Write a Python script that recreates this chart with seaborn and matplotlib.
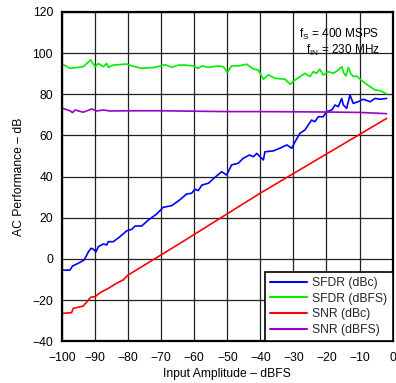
import numpy as np
import pandas as pd
import matplotlib
matplotlib.use("Agg")
import matplotlib.pyplot as plt
import seaborn as sns

# SFDR (dBc) vs input amplitude
sfdr_dbc_x = [-99.8, -97.6, -96.8, -95.1, -93.3, -92.0, -91.2, -90.5, -89.7, -89.0, -87.5, -86.5,
              -86.0, -84.5, -82.5, -80.4, -78.9, -77.9, -75.9, -73.9, -71.4, -69.4, -66.8, -64.3,
              -62.3, -60.8, -59.8, -58.8, -57.7, -55.7, -53.7, -51.7, -50.2, -48.7, -46.7, -45.2,
              -43.3, -42.1, -41.1, -39.1, -38.6, -36.1, -34.1, -32.0, -30.5, -29.5, -28.0, -26.5,
              -24.5, -23.5, -22.5, -21.0, -19.9, -18.4, -17.4, -16.4, -15.4, -14.9, -13.9, -12.9,
              -11.9, -10.4, -8.9, -6.8, -5.3, -3.8, -1.8]
sfdr_dbc_y = [-5.4, -5.4, -3.4, -2.1, -0.5, 3.5, 5.2, 4.7, 3.5, 6.0, 7.3, 6.8,
              8.4, 8.4, 10.8, 13.7, 14.4, 16.0, 16.0, 18.9, 21.8, 25.1, 25.9, 28.8,
              31.6, 31.9, 33.9, 33.2, 35.9, 36.8, 39.7, 42.4, 40.8, 45.7, 46.5, 48.9,
              50.5, 49.7, 51.3, 48.1, 52.1, 52.5, 53.8, 55.4, 53.8, 57.0, 61.1, 62.7,
              67.5, 66.7, 69.1, 69.1, 71.6, 72.4, 74.8, 74.0, 78.0, 74.8, 73.2, 79.7,
              75.6, 76.4, 77.6, 76.4, 78.0, 77.6, 78.0]

# SFDR (dBFS) vs input amplitude
sfdr_dbfs_x = [-99.8, -97.6, -93.6, -91.3, -90.0, -89.0, -87.5, -86.5, -86.0, -84.5, -80.4, -78.9,
               -75.9, -71.9, -68.8, -66.8, -64.8, -62.8, -60.3, -58.8, -57.7, -55.7, -52.7, -51.2,
               -50.0, -48.7, -46.7, -44.1, -42.1, -40.6, -39.1, -37.6, -35.6, -32.5, -31.0, -29.5,
               -28.0, -26.5, -25.0, -24.0, -23.0, -22.0, -21.0, -19.4, -17.9, -16.4, -15.4, -14.7,
               -14.1, -13.4, -12.7, -11.9, -10.9, -8.9, -6.8, -5.3, -3.8, -1.8]
sfdr_dbfs_y = [94.6, 92.6, 93.4, 96.7, 93.4, 95.0, 93.4, 95.0, 93.1, 94.2, 94.7, 93.8,
               92.6, 93.1, 94.4, 93.1, 94.2, 94.2, 93.8, 92.6, 93.8, 93.1, 93.8, 93.4,
               90.7, 93.8, 93.8, 94.6, 92.3, 91.8, 87.3, 89.4, 87.8, 87.3, 84.9, 87.0,
               88.6, 90.2, 88.6, 91.0, 90.2, 92.2, 89.4, 91.0, 90.2, 91.8, 93.4, 90.2,
               88.9, 93.1, 90.2, 88.6, 88.9, 86.1, 83.7, 82.1, 81.8, 80.2]

# SNR (dBc) vs input amplitude
snr_dbc_x = [-99.8, -97.1, -96.6, -93.6, -91.3, -90.0, -88.5, -86.0, -83.5, -81.5, -80.0,
             -64.3, -40.1, -20.0, -1.8]
snr_dbc_y = [-26.4, -26.1, -24.0, -22.9, -18.6, -18.3, -16.4, -14.3, -11.8, -10.2, -7.8,
             7.6, 31.9, 51.0, 68.3]

# SNR (dBFS) vs input amplitude
snr_dbfs_x = [-99.8, -97.6, -96.8, -96.1, -93.6, -91.0, -89.5, -87.5, -85.5, -80.0, -70.0,
              -60.0, -50.0, -40.0, -30.0, -20.0, -10.0, -1.8]
snr_dbfs_y = [73.2, 72.0, 71.1, 72.4, 71.3, 72.9, 71.9, 72.4, 71.9, 72.0, 72.0,
              71.8, 71.6, 71.6, 71.5, 71.4, 71.2, 70.6]

series_names = ["SFDR (dBc)", "SFDR (dBFS)", "SNR (dBc)", "SNR (dBFS)"]
series_colors = ["#0000ff", "#00ee00", "#ff0000", "#9900cc"]

x_ticks = [-100, -90, -80, -70, -60, -50, -40, -30, -20, -10, 0]
y_ticks = [-40, -20, 0, 20, 40, 60, 80, 100, 120]

frames = []
for name, xs, ys in zip(series_names,
                        [sfdr_dbc_x, sfdr_dbfs_x, snr_dbc_x, snr_dbfs_x],
                        [sfdr_dbc_y, sfdr_dbfs_y, snr_dbc_y, snr_dbfs_y]):
    frames.append(pd.DataFrame({"amp": xs, "perf": ys, "series": name}))
df = pd.concat(frames, ignore_index=True)

sns.set_theme(style="white")
plt.rcParams["font.family"] = ["Liberation Sans", "DejaVu Sans"]
plt.rcParams["axes.unicode_minus"] = True

fig = plt.figure(figsize=(3.96, 3.83), dpi=100)
ax = fig.add_axes([0.1566, 0.1089, 0.9914 - 0.1566, 0.9687 - 0.1089])

sns.lineplot(data=df, x="amp", y="perf", hue="series", hue_order=series_names,
             palette=series_colors, linewidth=1.2, sort=False, estimator=None, ax=ax)

ax.set_xlim(-100, 0)
ax.set_ylim(-40, 120)
ax.set_xticks(x_ticks)
ax.set_yticks(y_ticks)
ax.grid(True, color="#222222", linewidth=0.9)
ax.set_axisbelow(True)
for s in ax.spines.values():
    s.set_color("black")
    s.set_linewidth(1.6)
ax.tick_params(axis="both", length=0, labelsize=8.7, colors="black")
ax.tick_params(axis="x", pad=7.5)
ax.tick_params(axis="y", pad=6.5)
ax.set_xlabel("Input Amplitude \u2013 dBFS", fontsize=8.7, color="black", labelpad=3)
ax.set_ylabel("AC Performance \u2013 dB", fontsize=8.7, color="black", labelpad=5)

leg = ax.legend(loc="lower right", fontsize=8.7, frameon=True, fancybox=False,
                edgecolor="black", framealpha=1, borderaxespad=0, handlelength=3.0,
                labelspacing=0.3, handletextpad=0.45, borderpad=0.45)
leg.get_frame().set_linewidth(1.2)
for line in leg.get_lines():
    line.set_linewidth(1.5)

ax.text(0.96, 0.955, "f$_\\mathregular{S}$ = 400 MSPS\nf$_\\mathregular{IN}$ = 230 MHz",
        transform=ax.transAxes, ha="right", va="top", fontsize=8.5, color="black",
        linespacing=1.05)

fig.savefig("out.png", dpi=100)
